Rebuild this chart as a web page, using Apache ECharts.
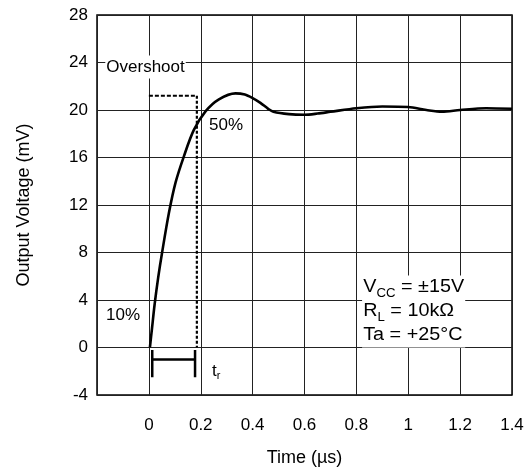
<!DOCTYPE html>
<html><head><meta charset="utf-8">
<script src="https://cdn.jsdelivr.net/npm/echarts@6/dist/echarts.min.js"></script>
<style>html,body{margin:0;padding:0;background:#fff}#c{width:529px;height:472px}</style>
</head><body><div id="c"></div>
<script>
// Step response data (time in µs, output in mV)
const timeUs =   [0.004, 0.012, 0.022, 0.036, 0.051, 0.077, 0.103, 0.135, 0.173, 0.219, 0.27, 0.334, 0.37, 0.40, 0.43, 0.46, 0.48, 0.54, 0.60, 0.65, 0.70, 0.80, 0.90, 1.00, 1.07, 1.13, 1.20, 1.30, 1.40];
const outputMv = [0,     1.6,   3.6,   5.9,   8.0,   11.3,  13.9,  16.1,  18.3,  19.9,  20.9, 21.4,  21.3, 21.0, 20.6, 20.1, 19.85, 19.65, 19.6, 19.7, 19.85, 20.15, 20.3, 20.25, 20.0, 19.85, 20.0, 20.15, 20.1];
// Overshoot guide (dashed)
const guideHX = [0, 0.185];
const guideHY = [21.2, 21.2];
const guideVX = [0.185, 0.185];
const guideVY = [21.2, 0];
// Rise-time bracket
const trStart = 0.013, trEnd = 0.178;
const trBarY = -1.0, trTickTop = -0.2, trTickBottom = -2.5;
// Axis ticks
const xMin = -0.2, xMax = 1.4, xStep = 0.2;
const yMin = -4, yMax = 28, yStep = 4;

const FONT = "'Liberation Sans', Arial, sans-serif";
const pair = (xs, ys) => xs.map((x, i) => [x, ys[i]]);

const chart = echarts.init(document.getElementById('c'));
const seg = (pts, w) => ({type:'line', data: pts, symbol:'none', silent:true,
  lineStyle:{color:'#000', width:w}, z:4});

chart.setOption({
  animation:false,
  grid:{left:97, right:17, top:15, bottom:76, show:true, borderColor:'#000', borderWidth:1.5},
  xAxis:{type:'value', min:xMin, max:xMax, interval:xStep,
    name:'Time (µs)', nameLocation:'middle', nameGap:54,
    nameTextStyle:{fontFamily:FONT, fontSize:18, color:'#000'},
    axisLine:{show:false}, axisTick:{show:false},
    axisLabel:{margin:22, fontFamily:FONT, fontSize:17, color:'#000',
      formatter:v => Math.abs(v - xMin) < 1e-9 ? '' : String(+v.toFixed(1))},
    splitLine:{show:true, lineStyle:{color:'#222', width:1}}},
  yAxis:{type:'value', min:yMin, max:yMax, interval:yStep,
    name:'Output Voltage (mV)', nameLocation:'middle', nameGap:64,
    nameTextStyle:{fontFamily:FONT, fontSize:18, color:'#000'},
    axisLine:{show:false}, axisTick:{show:false},
    axisLabel:{margin:9, fontFamily:FONT, fontSize:17, color:'#000'},
    splitLine:{show:true, lineStyle:{color:'#222', width:1}}},
  series:[
    {type:'line', data: pair(timeUs, outputMv), smooth:0.3, symbol:'none', silent:true,
     lineStyle:{color:'#000', width:2.6}, z:5},
    {type:'line', data: pair(guideHX, guideHY), symbol:'none', silent:true,
     lineStyle:{color:'#000', width:2, type:[4,2]}, z:4},
    {type:'line', data: pair(guideVX, guideVY), symbol:'none', silent:true,
     lineStyle:{color:'#000', width:2.2, type:[3,2]}, z:4},
    seg([[trStart, trTickTop],[trStart, trTickBottom]], 2.5),
    seg([[trEnd, trTickTop],[trEnd, trTickBottom]], 2.5),
    seg([[trStart, trBarY],[trEnd, trBarY]], 2.5)
  ]
});

const px = (x, y) => chart.convertToPixel({gridIndex:0}, [x, y]);
const label = (x, y, text, extra) => {
  const p = px(x, y);
  return {type:'text', x:p[0], y:p[1], z:10,
    style:Object.assign({text:text, fill:'#000', font:'17px ' + FONT, verticalAlign:'middle', align:'left'}, extra || {})};
};
const pOver = label(-0.168, 23.63, 'Overshoot', {backgroundColor:'#fff', padding:[3,1,3,1]});
const p50 = label(0.232, 18.67, '50%');
const p10 = label(-0.165, 2.7, '10%');
const tr = px(0.243, -2.0);
const box = px(0.822, 3.04);
chart.setOption({graphic:[
  pOver, p50, p10,
  {type:'text', x:tr[0], y:tr[1], z:10, style:{
    text:'{n|t}{s|r}', verticalAlign:'middle', align:'left', fill:'#000',
    rich:{n:{fontFamily:FONT, fontSize:17, lineHeight:20, verticalAlign:'middle'},
          s:{fontFamily:FONT, fontSize:11, lineHeight:20, verticalAlign:'bottom'}}}},
  {type:'text', x:box[0], y:box[1], z:10, scaleX:1.1, style:{
    text:'{n|V}{s|CC}{n| = ±15V}\n{n|R}{s|L}{n| = 10kΩ}\n{n|Ta = +25°C}',
    verticalAlign:'middle', align:'left', fill:'#000', backgroundColor:'#fff', padding:[0,1,0,1],
    rich:{n:{fontFamily:FONT, fontSize:18, lineHeight:24, fill:'#000'},
          s:{fontFamily:FONT, fontSize:12, lineHeight:24, verticalAlign:'bottom', fill:'#000'}}}}
]});
</script></body></html>
